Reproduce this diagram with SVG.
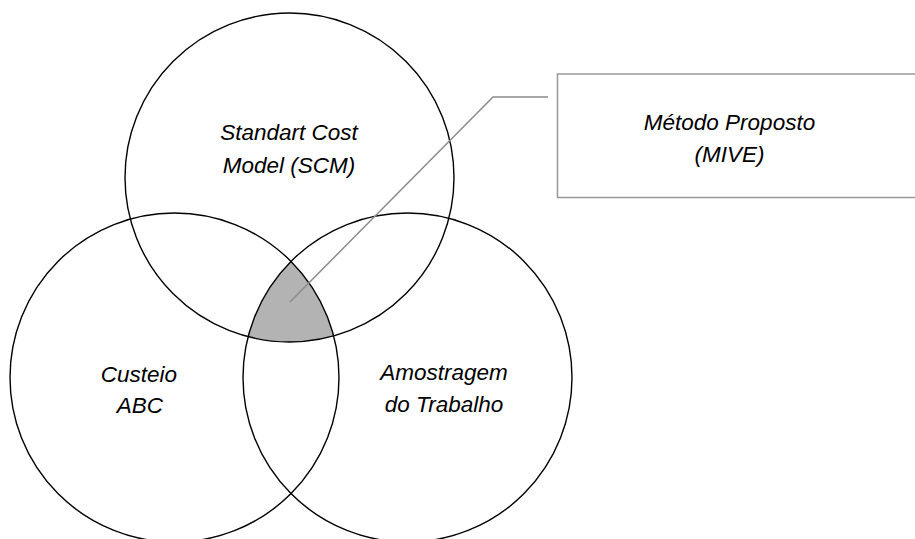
<svg xmlns="http://www.w3.org/2000/svg" width="915" height="539" viewBox="0 0 915 539">
<style>
.c{fill:none;stroke:#000;stroke-width:1.4}
.t{font-family:"Liberation Sans",Arial,sans-serif;font-style:italic;font-size:22.5px;fill:#000;text-anchor:middle}
.box{fill:#fff;stroke:#999;stroke-width:1.5}
.ln{fill:none;stroke:#8c8c8c;stroke-width:1.5}
</style>
<defs>
<clipPath id="cT"><circle cx="289.5" cy="177.5" r="164.5"/></clipPath>
<clipPath id="cL"><circle cx="174.5" cy="377.5" r="164.5"/></clipPath>
</defs>
<g id="intersection" clip-path="url(#cT)"><g clip-path="url(#cL)"><circle cx="407.5" cy="377.5" r="164.5" fill="#b3b3b3"/></g></g>
<g id="scm"><circle class="c" cx="289.5" cy="177.5" r="164.5"/><text class="t" x="289" y="140">Standart Cost</text><text class="t" x="289" y="173">Model (SCM)</text></g>
<g id="abc"><circle class="c" cx="174.5" cy="377.5" r="164.5"/><text class="t" x="139" y="382">Custeio</text><text class="t" x="140" y="413">ABC</text></g>
<g id="amostragem"><circle class="c" cx="407.5" cy="377.5" r="164.5"/><text class="t" x="444" y="380">Amostragem</text><text class="t" x="444" y="412">do Trabalho</text></g>
<g id="mive"><rect class="box" x="557.5" y="74" width="400" height="123.5"/><text class="t" x="729.5" y="130">Método Proposto</text><text class="t" x="729.5" y="162">(MIVE)</text></g>
<g id="connectors"><polyline class="ln" points="290,302 493,97 548,97"/></g>
</svg>
